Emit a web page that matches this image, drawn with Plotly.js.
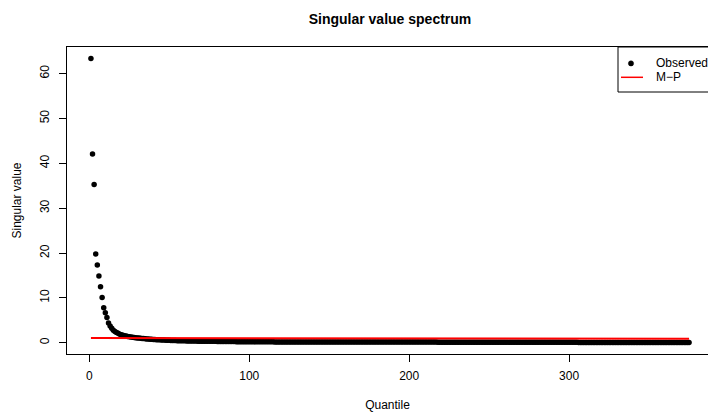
<!DOCTYPE html>
<html>
<head>
<meta charset="utf-8">
<script src="https://cdn.plot.ly/plotly-3.0.1.min.js"></script>
<style>html,body{margin:0;padding:0;background:#fff;}#chart{width:708px;height:412px;}</style>
</head>
<body>
<div id="chart"></div>
<script>
// Observed singular values, in decreasing order (rank 1..375)
const observed = [
63.4,42.1,35.3,19.8,17.3,14.9,12.5,10.1,7.8,6.7,
5.6,4.4,3.7,3.2,2.8,2.5,2.3,2.1,1.9,1.75,
1.65,1.55,1.47,1.4,1.33,1.27,1.21,1.16,1.11,1.07,
1.03,0.99,0.95,0.91,0.88,0.85,0.82,0.79,0.76,0.73,
0.70,0.68,0.66,0.64,0.62,0.60,0.58,0.56,0.54,0.52,0.50,0.49,0.48,0.47,0.46,0.45,0.44,
0.43,0.42,0.41,0.40,0.39,0.38,0.38,0.37,0.36,0.36,
0.35,0.35,0.34,0.34,0.33,0.33,0.32,0.32,0.31,0.31,
0.30,0.30,0.29,0.29,0.28,0.28,0.27,0.27,0.26,0.26,
0.25,0.25,0.24,0.24,0.23,0.23,0.22,0.22,0.21,0.21,
0.20,
0.19,0.19,0.19,0.19,0.19,0.19,0.19,0.19,0.19,0.19,0.19,0.19,0.19,0.19,0.19,0.19,0.19,
0.18,0.18,0.18,0.18,0.18,0.18,0.18,0.18,0.18,0.18,0.18,0.18,0.18,0.18,0.18,0.18,0.18,
0.17,0.17,0.17,0.17,0.17,0.17,0.17,0.17,0.17,0.17,0.17,0.17,0.17,0.17,0.17,0.17,0.17,
0.16,0.16,0.16,0.16,0.16,0.16,0.16,0.16,0.16,0.16,0.16,0.16,0.16,0.16,0.16,0.16,0.16,
0.15,0.15,0.15,0.15,0.15,0.15,0.15,0.15,0.15,0.15,0.15,0.15,0.15,0.15,0.15,0.15,0.15,
0.14,0.14,0.14,0.14,0.14,0.14,0.14,0.14,0.14,0.14,0.14,0.14,0.14,0.14,0.14,0.14,0.14,
0.13,0.13,0.13,0.13,0.13,0.13,0.13,0.13,0.13,0.13,0.13,0.13,0.13,0.13,0.13,0.13,0.13,
0.12,0.12,0.12,0.12,0.12,0.12,0.12,0.12,0.12,0.12,0.12,0.12,0.12,0.12,0.12,0.12,0.12,
0.11,0.11,0.11,0.11,0.11,0.11,0.11,0.11,0.11,0.11,0.11,0.11,0.11,0.11,0.11,0.11,0.11,
0.10,0.10,0.10,0.10,0.10,0.10,0.10,0.10,0.10,0.10,0.10,0.10,0.10,0.10,0.10,0.10,0.10,0.10,
0.09,0.09,0.09,0.09,0.09,0.09,0.09,0.09,0.09,0.09,0.09,0.09,0.09,0.09,0.09,0.09,0.09,0.09,
0.08,0.08,0.08,0.08,0.08,0.08,0.08,0.08,0.08,0.08,0.08,0.08,0.08,0.08,0.08,0.08,0.08,0.08,
0.07,0.07,0.07,0.07,0.07,0.07,0.07,0.07,0.07,0.07,0.07,0.07,0.07,0.07,0.07,0.07,0.07,0.07,
0.05,0.05,0.05,0.05,0.05,0.05,0.05,0.05,0.05,0.05,0.05,0.05,0.05,
0.04,0.04,0.04,0.04,0.04,0.04,0.04,0.04,0.04,0.04,0.04,0.04,0.04,
0.03,0.03,0.03,0.03,0.03,0.03,0.03,0.03,0.03,0.03,0.03,0.03,0.03,
0.02,0.02,0.02,0.02,0.02,0.02,0.02,0.02,0.02,0.02,0.02,0.02,0.02
];
// Marchenko-Pastur reference curve (quantile rank, value)
const mpRank = [1, 94, 188, 281, 375];
const mpValue = [1.06, 1.02, 0.98, 0.94, 0.90];

const xTicks = [0, 100, 200, 300];
const yTicks = [0, 10, 20, 30, 40, 50, 60];
const legendLabels = ["Observed", "M\u2212P"];

const rank = observed.map((v, i) => i + 1);

const FONT = "Liberation Sans, Arial, Helvetica, sans-serif";
const L = 67, T = 47, W = 641, H = 307;
const px = x => (x - L) / W;
const py = y => (T + H - y) / H;

const traces = [
  {x: rank, y: observed, type: "scatter", mode: "markers", name: legendLabels[0],
   marker: {color: "#000", size: 5.5}, showlegend: false, hoverinfo: "x+y"},
  {x: mpRank, y: mpValue, type: "scatter", mode: "lines", name: legendLabels[1],
   line: {color: "#ff0000", width: 2}, showlegend: false}
];

const layout = {
  width: 708, height: 412,
  margin: {l: L, r: 0, t: T, b: 412 - T - H, pad: 0, autoexpand: false},
  paper_bgcolor: "#fff", plot_bgcolor: "#fff",
  font: {family: FONT, size: 12, color: "#000"},
  title: {text: "<b>Singular value spectrum</b>", font: {family: FONT, size: 14, color: "#000"},
          xref: "paper", x: px(390), xanchor: "center",
          yref: "container", y: 1 - 19 / 412, yanchor: "middle"},
  xaxis: {range: [-13.96, 386.84], tickvals: xTicks, ticktext: xTicks.map(String),
          ticks: "outside", ticklen: 7, tickwidth: 1, tickcolor: "#000",
          showline: true, linecolor: "#000", linewidth: 1, mirror: true,
          showgrid: false, zeroline: false, ticklabelstandoff: 4,
          tickfont: {family: FONT, size: 12, color: "#000"},
          title: {text: "Quantile", font: {family: FONT, size: 12, color: "#000"}, standoff: 19}},
  yaxis: {range: [-2.52, 65.94], tickvals: yTicks, ticktext: yTicks.map(String),
          ticks: "outside", ticklen: 7, tickwidth: 1, tickcolor: "#000", tickangle: -90,
          showline: true, linecolor: "#000", linewidth: 1, mirror: false,
          showgrid: false, zeroline: false, ticklabelstandoff: 5,
          tickfont: {family: FONT, size: 12, color: "#000"},
          title: {text: "Singular value", font: {family: FONT, size: 12, color: "#000"}, standoff: 14}},
  shapes: [
    {type: "rect", xref: "paper", yref: "paper", x0: px(618), x1: px(725), y0: py(92), y1: py(47),
     line: {color: "#000", width: 1}, fillcolor: "#fff", layer: "above"},
    {type: "circle", xref: "paper", yref: "paper", x0: px(628.4), x1: px(633.6), y0: py(66), y1: py(60.8),
     line: {color: "#000", width: 0.5}, fillcolor: "#000", layer: "above"},
    {type: "line", xref: "paper", yref: "paper", x0: px(621), x1: px(643), y0: py(77.3), y1: py(77.3),
     line: {color: "#ff0000", width: 1.5}, layer: "above"}
  ],
  annotations: [
    {text: legendLabels[0], xref: "paper", yref: "paper", x: px(654), y: py(63.4),
     xanchor: "left", yanchor: "middle", showarrow: false, font: {family: FONT, size: 12, color: "#000"}},
    {text: legendLabels[1], xref: "paper", yref: "paper", x: px(654), y: py(77.3),
     xanchor: "left", yanchor: "middle", showarrow: false, font: {family: FONT, size: 12, color: "#000"}}
  ]
};

Plotly.newPlot("chart", traces, layout, {displayModeBar: false, staticPlot: true});
</script>
</body>
</html>
